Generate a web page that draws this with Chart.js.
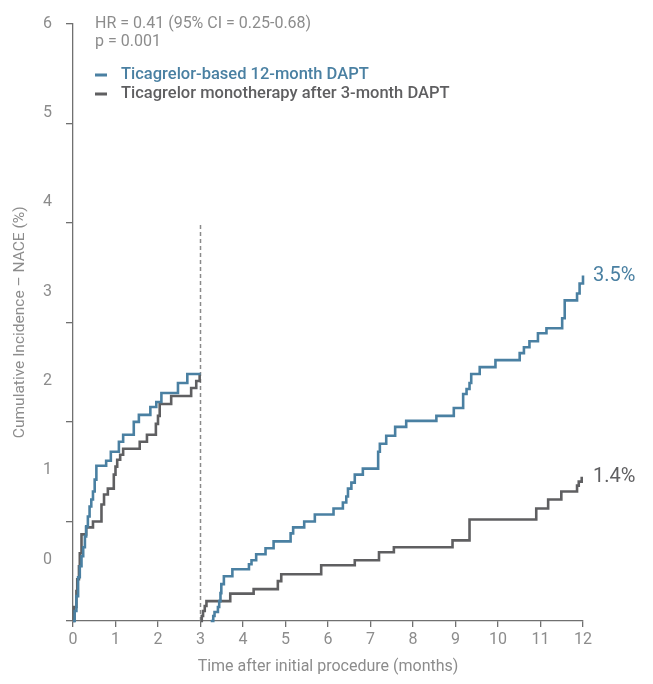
<!DOCTYPE html>
<html><head><meta charset="utf-8">
<script src="https://cdn.jsdelivr.net/npm/chart.js@4"></script>
<style>html,body{margin:0;padding:0;background:#fff;}</style>
</head><body>
<canvas id="c" width="653" height="684"></canvas>
<script>
// ---- data ----
const xTicks = [0,1,2,3,4,5,6,7,8,9,10,11,12];
const yTicks = [0,1,2,3,4,5,6];
const seriesNames = ['Ticagrelor-based 12-month DAPT', 'Ticagrelor monotherapy after 3-month DAPT'];
const statLines = ['HR = 0.41 (95% CI = 0.25-0.68)', 'p = 0.001'];
const endLabels = ['3.5%', '1.4%'];
const xTitle = 'Time after initial procedure (months)';
const yTitle = 'Cumulative Incidence \u2013 NACE (%)';

// months 0-3
const blueEarlyT = [0,0.04,0.08,0.12,0.16,0.20,0.24,0.28,0.31,0.35,0.39,0.43,0.47,0.51,0.55,0.78,0.89,1.08,1.18,1.43,1.55,1.82,1.96,2.08,2.47,2.69,3.00];
const blueEarlyV = [0,0.10,0.25,0.44,0.55,0.65,0.74,0.85,0.95,1.05,1.15,1.22,1.30,1.42,1.56,1.61,1.70,1.80,1.87,2.00,2.07,2.15,2.20,2.29,2.39,2.48,2.48];
const grayEarlyT = [0,0.02,0.08,0.10,0.14,0.16,0.20,0.31,0.47,0.67,0.73,0.82,0.96,1.00,1.04,1.11,1.18,1.57,1.74,1.95,2.00,2.04,2.31,2.78,2.90,2.98,3.00];
const grayEarlyV = [0,0.14,0.30,0.42,0.55,0.68,0.87,0.94,1.00,1.17,1.27,1.33,1.47,1.55,1.62,1.67,1.73,1.80,1.87,1.98,2.06,2.18,2.26,2.34,2.41,2.47,2.47];
// months 3-12 (landmark)
const blueLateT = [3.24,3.30,3.33,3.41,3.44,3.47,3.49,3.55,3.75,4.14,4.20,4.31,4.53,4.72,5.12,5.18,5.44,5.69,6.13,6.35,6.43,6.47,6.55,6.63,6.82,7.18,7.22,7.37,7.58,7.84,8.55,8.96,9.18,9.26,9.33,9.37,9.57,9.94,10.51,10.61,10.74,10.94,11.14,11.51,11.57,11.86,11.92,12.00];
const blueLateV = [0,0.05,0.09,0.14,0.20,0.28,0.37,0.45,0.52,0.57,0.61,0.67,0.73,0.80,0.88,0.94,1.00,1.07,1.13,1.19,1.25,1.33,1.39,1.47,1.53,1.70,1.78,1.86,1.95,2.01,2.06,2.14,2.28,2.33,2.39,2.48,2.55,2.62,2.69,2.75,2.81,2.89,2.94,3.04,3.22,3.29,3.39,3.47];
const grayLateT = [3.00,3.03,3.06,3.10,3.14,3.70,4.25,4.82,4.90,5.84,6.63,7.20,7.55,8.93,9.33,10.90,11.18,11.49,11.86,11.90,11.97];
const grayLateV = [0,0.05,0.10,0.15,0.20,0.275,0.32,0.40,0.47,0.56,0.61,0.69,0.74,0.81,1.02,1.13,1.22,1.30,1.36,1.40,1.45];
const landmarkT = [3, 3];
const landmarkV = [0, 4];

// ---- styles ----
const BLUE = '#4a80a2';
const GRAY = '#5f5f61';
const TEXT = '#8c8c8c';
const AXIS = '#707070';
const FONT = 'Roboto, "DejaVu Sans", sans-serif';

const pts = (t, v) => t.map((x, i) => ({x, y: v[i]}));
const curve = (t, v, color) => ({
  data: pts(t, v), borderColor: color, borderWidth: 2.6, stepped: 'before',
  pointRadius: 0, fill: false, clip: 4
});

const textPlugin = {
  id: 'texts',
  afterDraw(chart) {
    const ctx = chart.ctx, ca = chart.chartArea;
    const xs = chart.scales.x, ys = chart.scales.y;
    ctx.save();
    ctx.textBaseline = 'middle';
    ctx.textAlign = 'left';
    const lx = ca.left + 22;
    ctx.font = '16px ' + FONT;
    ctx.fillStyle = TEXT;
    ctx.fillText(statLines[0], lx, ca.top + 0.5);
    ctx.fillText(statLines[1], lx, ca.top + 18.5);
    const cols = [BLUE, GRAY];
    [75, 94].forEach((yy, i) => {
      ctx.fillStyle = cols[i];
      ctx.fillRect(lx, yy - 1.5, 12, 3);
      ctx.font = '500 16.5px ' + FONT;
      ctx.fillText(seriesNames[i], lx + 26, yy);
    });
    ctx.font = '20px ' + FONT;
    ctx.fillStyle = BLUE;
    ctx.fillText(endLabels[0], xs.getPixelForValue(12) + 10, ys.getPixelForValue(blueLateV[blueLateV.length-1]));
    ctx.fillStyle = GRAY;
    ctx.fillText(endLabels[1], xs.getPixelForValue(12) + 10, ys.getPixelForValue(grayLateV[grayLateV.length-1]));
    ctx.restore();
  }
};

new Chart(document.getElementById('c'), {
  type: 'line',
  data: {
    datasets: [
      curve(blueEarlyT, blueEarlyV, BLUE),
      curve(blueLateT, blueLateV, BLUE),
      curve(grayEarlyT, grayEarlyV, GRAY),
      curve(grayLateT, grayLateV, GRAY),
      { data: pts(landmarkT, landmarkV), borderColor: '#8a8a8a', borderWidth: 1.5, borderDash: [4, 3], pointRadius: 0, fill: false }
    ]
  },
  options: {
    responsive: false, animation: false, devicePixelRatio: 1,
    layout: { padding: { top: 17, right: 70, bottom: 0, left: 0 } },
    plugins: { legend: { display: false }, tooltip: { enabled: false } },
    scales: {
      x: {
        type: 'linear', min: 0, max: 12,
        afterBuildTicks: s => { s.ticks = xTicks.map(v => ({value: v})); },
        afterFit: s => { s.height = 63; },
        grid: { display: true, drawOnChartArea: false, drawTicks: true, tickLength: 6, color: AXIS, lineWidth: 1.3 },
        border: { display: true, color: AXIS, width: 1.3 },
        ticks: { color: TEXT, font: { family: FONT, size: 16 }, padding: 3, maxRotation: 0 },
        title: { display: true, text: xTitle, color: TEXT, font: { family: FONT, size: 16 }, padding: { top: 0, bottom: 7 } }
      },
      y: {
        type: 'linear', position: 'left', weight: 0, min: 0, max: 6,
        afterBuildTicks: s => { s.ticks = yTicks.map(v => ({value: v})); },
        afterFit: s => { s.width = 7; },
        grid: { display: true, drawOnChartArea: false, drawTicks: true, tickLength: 7, color: AXIS, lineWidth: 1.3 },
        border: { display: true, color: AXIS, width: 1.3 },
        ticks: { display: false }
      },
      yLabels: {
        type: 'linear', position: 'left', weight: 1, min: -0.686, max: 6,
        afterBuildTicks: s => { s.ticks = yTicks.map(v => ({value: v})); },
        afterFit: s => { s.width = 66; },
        grid: { display: false, drawTicks: false },
        border: { display: false },
        ticks: { color: TEXT, font: { family: FONT, size: 16 }, padding: 14 },
        title: { display: true, text: yTitle, color: TEXT, font: { family: FONT, size: 15.5 }, padding: { top: 11, bottom: 0 } }
      }
    }
  },
  plugins: [textPlugin]
});
</script>
</body></html>
